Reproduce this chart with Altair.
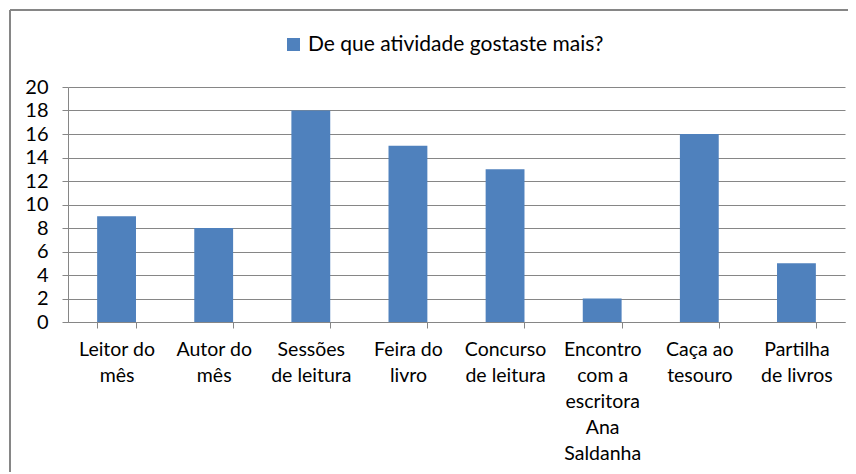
import altair as alt
import pandas as pd

categories = ["Leitor do|mês", "Autor do|mês", "Sessões|de leitura", "Feira do|livro",
              "Concurso|de leitura", "Encontro|com a|escritora|Ana|Saldanha",
              "Caça ao|tesouro", "Partilha|de livros"]
values = [9, 8, 18, 15, 13, 2, 16, 5]
series_name = "De que atividade gostaste mais?"
y_ticks = [0, 2, 4, 6, 8, 10, 12, 14, 16, 18, 20]

df = pd.DataFrame({"cat": categories, "val": values, "serie": [series_name] * len(values)})

FONT = "Lato"
GRAY = "#868686"
W, H = 777, 235
PL, PT, PR, PB = 60, 79, 3, 150

bars = alt.Chart(df).mark_bar(color="#4F81BD").encode(
    x=alt.X("cat:N", sort=None, title=None,
            scale=alt.Scale(paddingInner=0.6, paddingOuter=0.3),
            axis=alt.Axis(labelExpr="split(datum.label, '|')", labelAngle=0,
                          labelFontSize=19.5, labelLineHeight=26, labelBaseline="top",
                          labelPadding=12, tickBand="extent", tickSize=6,
                          tickColor=GRAY, domainColor=GRAY, labelColor="#000000",
                          labelFont=FONT, grid=False, labelLimit=200)),
    y=alt.Y("val:Q", title=None,
            scale=alt.Scale(domain=[0, 20], nice=False),
            axis=alt.Axis(values=y_ticks, labelFontSize=20, labelFont=FONT,
                          labelColor="#000000", tickSize=6, tickColor=GRAY,
                          domainColor=GRAY, gridColor=GRAY, labelPadding=14)),
    color=alt.Color("serie:N", title=None,
                    scale=alt.Scale(range=["#4F81BD"]),
                    legend=alt.Legend(orient="none", legendX=215, legendY=-53,
                                      symbolType="square", symbolSize=169,
                                      symbolStrokeWidth=0, labelFontSize=21,
                                      labelFont=FONT, labelColor="#000000",
                                      labelLimit=400, symbolOffset=0)),
)

left_border = alt.Chart(df).mark_rule(color=GRAY, strokeWidth=2).encode(
    x=alt.value(-PL + 2), y=alt.value(-PT + 2), y2=alt.value(H + PB)
)
top_border = alt.Chart(df).mark_rule(color=GRAY, strokeWidth=2).encode(
    x=alt.value(-PL + 2), x2=alt.value(W + PR), y=alt.value(-PT + 2)
)

chart = alt.layer(bars, left_border, top_border).properties(
    width=W, height=H,
    autosize=alt.AutoSizeParams(type="none"),
    padding={"left": PL, "top": PT, "right": PR, "bottom": PB},
).configure_view(stroke=None)

chart.save("out.html", embed_options={"renderer": "svg", "actions": False})
